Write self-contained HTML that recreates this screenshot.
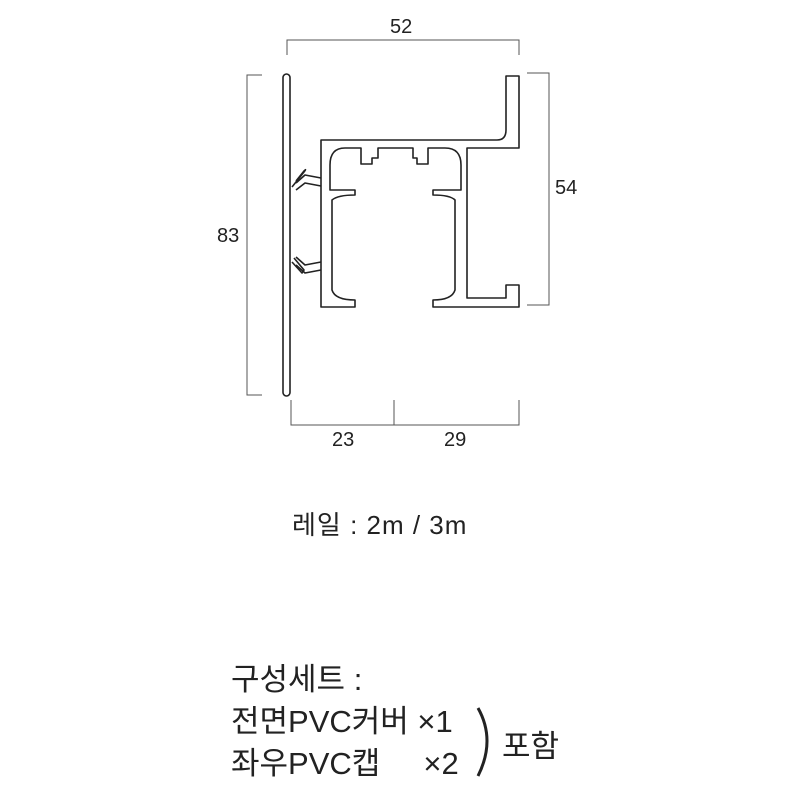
<!DOCTYPE html>
<html><head><meta charset="utf-8"><style>
body{margin:0;background:#fff;}
.t{position:absolute;font-family:"Liberation Sans","Noto Sans CJK KR",sans-serif;color:#222;white-space:nowrap;}
</style></head><body>
<div style="position:relative;width:800px;height:800px;overflow:hidden">
<svg width="800" height="800" style="position:absolute;left:0;top:0">
<g stroke="#555" stroke-width="1" fill="none">
<path d="M287,55 V40 H519 V55"/>
<path d="M262,75 H247 V395 H262"/>
<path d="M527,73 H549 V305 H527"/>
<path d="M291,400 V425 H519 V400 M394,400 V425"/>
</g>
<g stroke="#222" stroke-width="1.6" fill="none" stroke-linejoin="round">
<rect x="283" y="74" width="7" height="322" rx="3.5"/>
<path d="M321,140 H497 Q506,140 506,130 V76 H519 V148 H467 V298 H506 V285 H519 V307 H433 V300 Q452,300 455,290 V200 Q450,195 433,195 V190 H461 V165 Q461,148 445,148 H428 V164 H417 V158 H413 V148 H378 V158 H372 V164 H361 V148 H345 Q330,148 330,165 V190 H355 V195 Q338,195 332,200 V290 Q335,300 355,300 V307 H321 Z"/>
<path d="M321,178 L305,175 L296,183 M321,186 L305,183 L296,190"/>
<path d="M296,181 L304,171 Q307,168 304,172 L292,187"/>
<path d="M321,262 L305,265 L296,257 M321,270 L305,273 L296,265"/>
<path d="M294,258 L304,270 L302,273 L292,262"/>
</g>
<path d="M478,708 Q496,740 478,776" stroke="#222" stroke-width="3" fill="none"/>
</svg>
<div class="t" style="left:390px;top:16px;font-size:20px">52</div>
<div class="t" style="left:217px;top:225px;font-size:20px">83</div>
<div class="t" style="left:555px;top:177px;font-size:20px">54</div>
<div class="t" style="left:332px;top:429px;font-size:20px">23</div>
<div class="t" style="left:444px;top:429px;font-size:20px">29</div>
<div class="t" style="left:292px;top:505px;font-size:26px;letter-spacing:1px">레일 : 2m / 3m</div>
<div class="t" style="left:231px;top:659px;font-size:31px;line-height:42px">구성세트 :<br>전면PVC커버 ×1<br>좌우PVC캡&nbsp;&nbsp;&nbsp;&nbsp;&nbsp;×2</div>
<div class="t" style="left:502px;top:721px;font-size:31px">포함</div>
</div>
</body></html>
